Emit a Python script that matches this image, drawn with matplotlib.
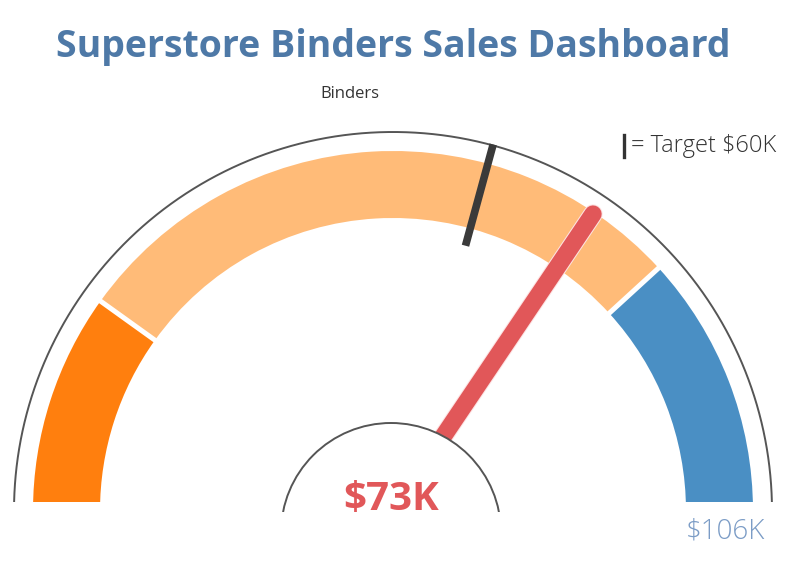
import numpy as np
import matplotlib
matplotlib.use("Agg")
import matplotlib.pyplot as plt
from matplotlib.patches import Wedge, Circle, Rectangle

# gauge data (in $K)
gauge_max = 106
band_edges = [0, 21, 81, 106]
band_colors = ["#ff7f0e", "#ffbb78", "#4a8fc4"]
actual_sales = 73
target_sales = 62
target_label = "$60K"
category = "Binders"

W, H = 786, 561
cx, cy = 393, 50          # gauge centre (pixel-like data coords, y up)
r_in, r_out = 293, 360    # band radii
r_line = 379              # thin outer arc


def ang(v):
    return 180.0 - v / gauge_max * 180.0


def clip_above(artist, y0):
    artist.set_clip_path(Rectangle((0, y0), W, H, transform=ax.transData))


fig = plt.figure(figsize=(W / 100, H / 100), dpi=100)
ax = fig.add_axes([0, 0, 1, 1])
ax.set_xlim(0, W)
ax.set_ylim(0, H)
ax.set_aspect("equal")
ax.axis("off")

# coloured bands
for i, col in enumerate(band_colors):
    w = Wedge((cx, cy), r_out, ang(band_edges[i + 1]), ang(band_edges[i]),
              width=r_out - r_in, facecolor=col, edgecolor="none", zorder=1)
    ax.add_patch(w)
    clip_above(w, 59)

# white gaps between bands
for v in band_edges[1:-1]:
    t = np.radians(ang(v))
    ax.plot([cx + (r_in - 2) * np.cos(t), cx + (r_out + 2) * np.cos(t)],
            [cy + (r_in - 2) * np.sin(t), cy + (r_out + 2) * np.sin(t)],
            color="white", lw=3.6, solid_capstyle="butt", zorder=2)

# thin outer arc
th = np.linspace(0, np.pi, 400)
arc, = ax.plot(cx + r_line * np.cos(th), cy + r_line * np.sin(th),
               color="#555555", lw=1.4, zorder=2)
clip_above(arc, 59)

# target mark
t = np.radians(ang(target_sales))
ax.plot([cx + 275 * np.cos(t), cx + 380 * np.cos(t)],
        [cy + 275 * np.sin(t), cy + 380 * np.sin(t)],
        color="#3a3a3a", lw=5.5, solid_capstyle="butt", zorder=3)

# needle
t = np.radians(ang(actual_sales))
nx = [cx + 60 * np.cos(t), cx + 358 * np.cos(t)]
ny = [cy + 60 * np.sin(t), cy + 358 * np.sin(t)]
ax.plot(nx, ny, color="#fde3e3", lw=14, solid_capstyle="round", zorder=4)
ax.plot(nx, ny, color="#e15759", lw=12.5, solid_capstyle="round", zorder=5)

# hub
hub = Circle((391, 28), 110, facecolor="white", edgecolor="#555555",
             lw=1.4, zorder=6)
ax.add_patch(hub)
clip_above(hub, 49)

# texts
ax.text(393, 514, "Superstore Binders Sales Dashboard", ha="center",
        va="center", fontsize=27, fontweight="bold", color="#4e79a7",
        family="Open Sans", zorder=7)
ax.text(350, 467, category, ha="center", va="center", fontsize=12,
        color="#333333", family="Open Sans", zorder=7)
ax.plot([623.5, 623.5], [404, 426], color="#333333", lw=2.4, zorder=7)
ax.text(631, 415, "= Target " + target_label, ha="left", va="center",
        fontsize=17, color="#333333", family="Open Sans", fontweight="light",
        zorder=7)
ax.text(391, 61, "$%dK" % actual_sales, ha="center", va="center",
        fontsize=29, fontweight="bold", color="#e15759", family="Open Sans",
        zorder=7)
ax.text(725, 29, "$%dK" % gauge_max, ha="center", va="center", fontsize=20,
        color="#7b9cc6", family="Open Sans", fontweight="light", zorder=7)

fig.savefig("out.png", dpi=100)
